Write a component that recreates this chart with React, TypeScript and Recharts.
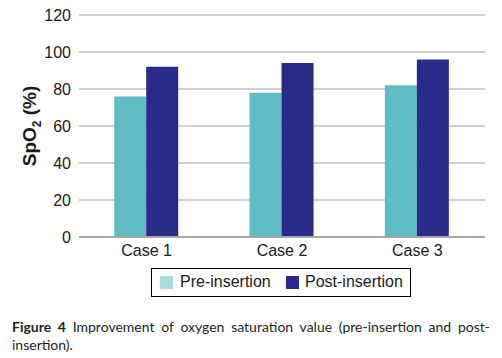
import React from 'react';
import { BarChart, Bar, XAxis, YAxis, CartesianGrid } from 'recharts';

const categories = ['Case 1', 'Case 2', 'Case 3'];
const preInsertion = [76, 78, 82];
const postInsertion = [92, 94, 96];
const yTicks = [0, 20, 40, 60, 80, 100, 120];

const data = categories.map((name, i) => ({ name, pre: preInsertion[i], post: postInsertion[i] }));

const PRE = '#5fbcc4';
const POST = '#2a2a8a';
const PRE_LEGEND = '#a9dddd';

const YLabel = (props: any) => {
  const vb = props.viewBox || {};
  const cy = (vb.y ?? 15) + (vb.height ?? 222) / 2;
  return (
    <text
      transform={`translate(36, ${cy}) rotate(-90)`}
      textAnchor="middle"
      fontFamily="'Liberation Sans', Arial, sans-serif"
      fontWeight="bold"
      fontSize={19}
      fill="#1a1a1a"
    >
      SpO<tspan fontSize={12} dy={5}>2</tspan>
      <tspan dy={-5}> (%)</tspan>
    </text>
  );
};

export default function App() {
  return (
    <div style={{ position: 'absolute', left: 0, top: 0, width: 502, height: 358, background: '#fff' }}>
      <BarChart
        width={502}
        height={270}
        data={data}
        margin={{ top: 15, right: 17, bottom: 8, left: 0 }}
        barCategoryGap="26%"
        barGap={0}
      >
        <CartesianGrid vertical={false} stroke="#c0c0c0" strokeWidth={1.5} />
        <XAxis
          dataKey="name"
          axisLine={{ stroke: '#a6a6a6', strokeWidth: 2 }}
          tickLine={false}
          height={25}
          tick={{ fill: '#1a1a1a', fontSize: 16, fontFamily: "'Liberation Sans', Arial, sans-serif" }}
        />
        <YAxis
          domain={[0, 120]}
          ticks={yTicks}
          width={79}
          axisLine={false}
          tickLine={false}
          interval={0}
          tick={{ fill: '#1a1a1a', fontSize: 16, fontFamily: "'Liberation Sans', Arial, sans-serif" }}
          label={<YLabel />}
        />
        <Bar dataKey="pre" fill={PRE} isAnimationActive={false} />
        <Bar dataKey="post" fill={POST} isAnimationActive={false} />
      </BarChart>
      <div
        style={{
          position: 'absolute',
          left: 151,
          top: 268,
          width: 258,
          height: 27,
          border: '1px solid #000',
          fontFamily: "'Liberation Sans', Arial, sans-serif",
          fontSize: 16,
          color: '#1a1a1a',
        }}
      >
        <div style={{ position: 'absolute', left: 8, top: 7, width: 13, height: 13, background: PRE_LEGEND }} />
        <div style={{ position: 'absolute', left: 28, top: 4, lineHeight: '18px' }}>Pre-insertion</div>
        <div style={{ position: 'absolute', left: 134, top: 7, width: 13, height: 13, background: POST }} />
        <div style={{ position: 'absolute', left: 153, top: 4, lineHeight: '18px' }}>Post-insertion</div>
      </div>
      <div
        style={{
          position: 'absolute',
          left: 12,
          top: 318,
          width: 478,
          fontFamily: "Lato, 'Open Sans', sans-serif",
          fontSize: 14,
          lineHeight: '18px',
          color: '#231f20',
        }}
      >
        <div style={{ textAlign: 'justify', textAlignLast: 'justify' as any }}>
          <b>Figure 4</b> Improvement of oxygen saturation value (pre-insertion and post-
        </div>
        <div>insertion).</div>
      </div>
    </div>
  );
}
